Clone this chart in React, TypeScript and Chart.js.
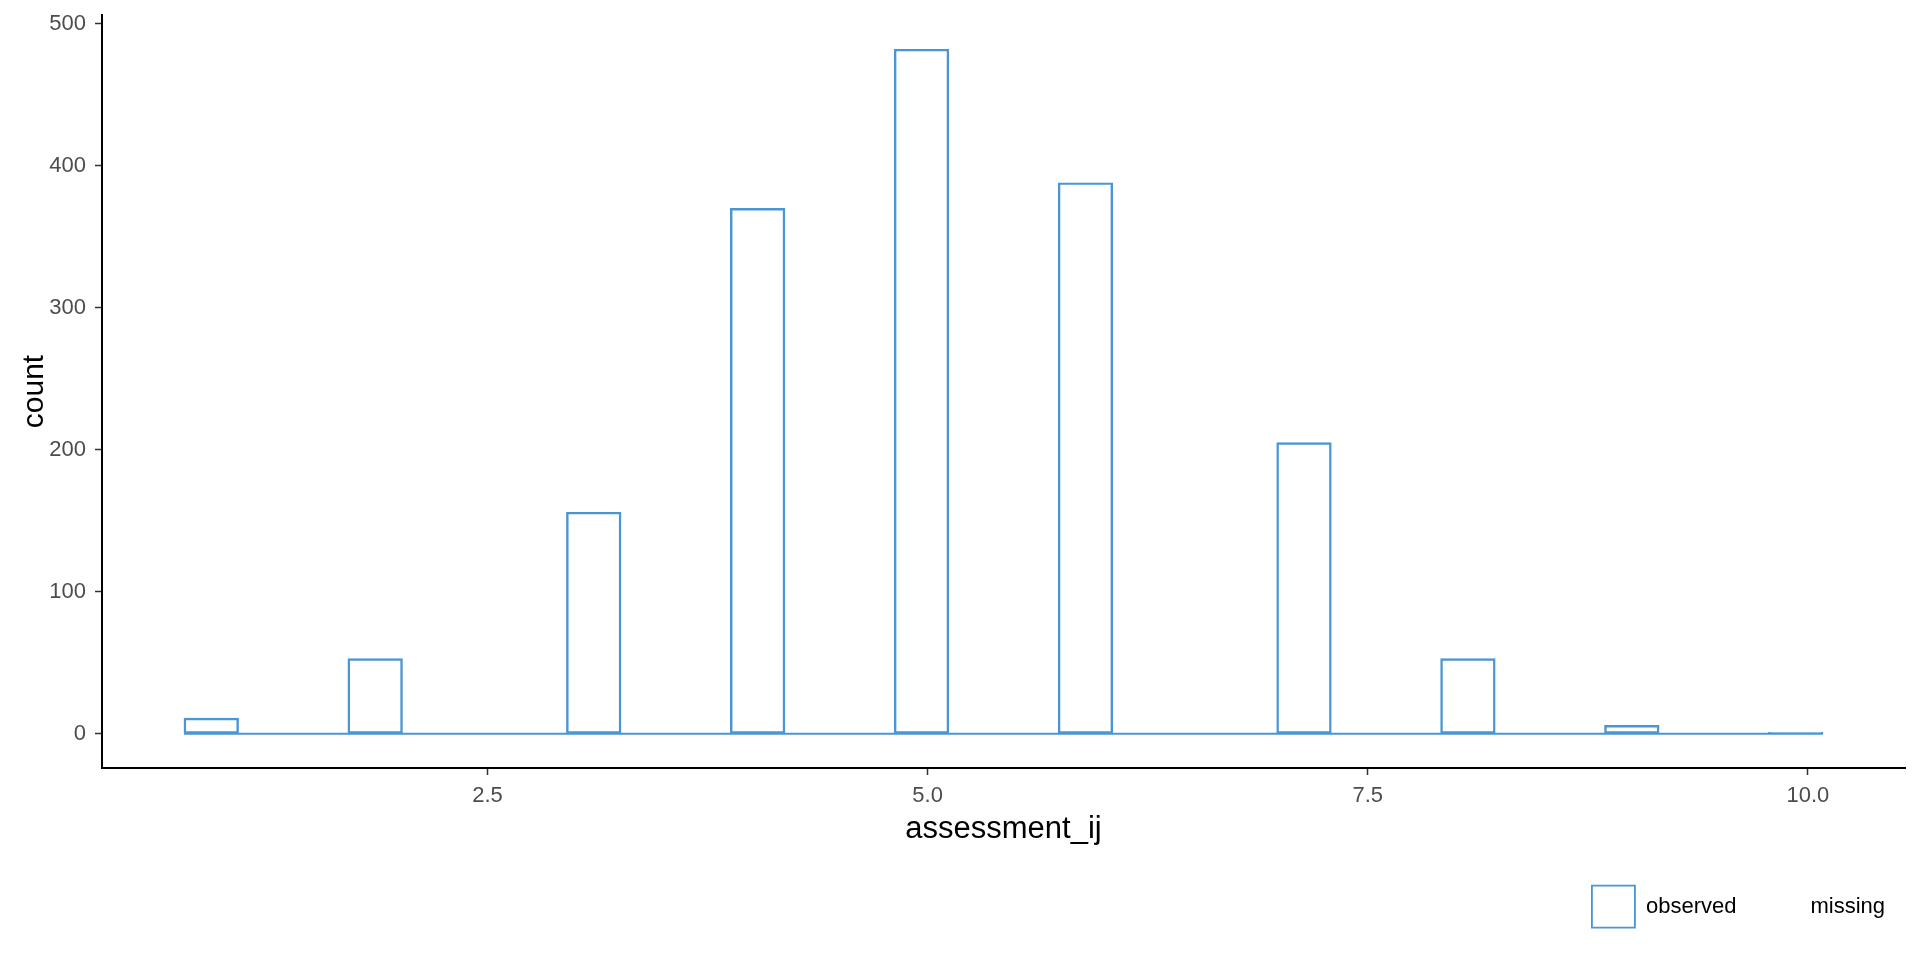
import React, { useEffect, useRef } from 'react';
import { Chart, registerables } from 'chart.js';

Chart.register(...registerables);

// Histogram bins (30 bins, ggplot default)
const binStart = 0.7759;
const binWidth = 9 / 29;
const binCounts = [11, 0, 0, 53, 0, 0, 0, 156, 0, 0, 370, 0, 0, 482, 0, 0, 388, 0, 0, 0, 205, 0, 0, 53, 0, 0, 6, 0, 0, 1];
const xTicks = [2.5, 5.0, 7.5, 10.0];
const yTicks = [0, 100, 200, 300, 400, 500];
const legendLabels = ['observed', 'missing'];
const xTitle = 'assessment_ij';
const yTitle = 'count';

const BLUE = '#4A96D3';
const FONT = "'Liberation Sans', Arial, sans-serif";

export default function App() {
  const ref = useRef<HTMLCanvasElement>(null);

  useEffect(() => {
    document.body.style.margin = '0';
    Chart.defaults.font.family = FONT;
    const binCenters = binCounts.map((_, i) => binStart + (i + 0.5) * binWidth);
    const binEnd = binStart + binCounts.length * binWidth;
    const yMax = Math.max(...binCounts);
    const xExp = (binEnd - binStart) * 0.05;
    const yExp = yMax * 0.05;

    const chart = new Chart(ref.current as HTMLCanvasElement, {
      type: 'bar',
      data: {
        datasets: [
          {
            type: 'bar',
            label: legendLabels[0],
            data: binCenters.map((x, i) => ({ x, y: binCounts[i] })),
            backgroundColor: 'rgba(0,0,0,0)',
            borderColor: BLUE,
            borderWidth: 1.8,
            borderSkipped: false,
            barPercentage: 1,
            categoryPercentage: 1,
            order: 1,
          } as any,
          {
            type: 'line',
            label: 'baseline',
            data: [
              { x: binStart, y: 0 },
              { x: binEnd, y: 0 },
            ],
            borderColor: BLUE,
            borderWidth: 1.8,
            pointRadius: 0,
            order: 2,
          } as any,
        ],
      },
      options: {
        animation: false,
        responsive: true,
        maintainAspectRatio: false,
        devicePixelRatio: 1,
        layout: { padding: { top: 15, right: 15, bottom: 22.3, left: 0 } },
        plugins: {
          tooltip: { enabled: false },
          legend: {
            display: true,
            position: 'bottom',
            align: 'end',
            labels: {
              boxWidth: 43,
              boxHeight: 42,
              padding: 20,
              color: '#000000',
              font: { size: 22, family: FONT },
              generateLabels: () => [
                {
                  text: legendLabels[0],
                  fillStyle: '#ffffff',
                  strokeStyle: BLUE,
                  lineWidth: 1.8,
                  hidden: false,
                  fontColor: '#000000',
                  datasetIndex: 0,
                },
                {
                  text: legendLabels[1],
                  fillStyle: 'rgba(0,0,0,0)',
                  strokeStyle: 'rgba(0,0,0,0)',
                  lineWidth: 0,
                  hidden: false,
                  fontColor: '#000000',
                },
              ],
            },
          },
        },
        scales: {
          x: {
            type: 'linear',
            offset: false,
            min: binStart - xExp,
            max: binEnd + xExp,
            afterBuildTicks: (s: any) => {
              s.ticks = xTicks.map((v) => ({ value: v }));
            },
            afterFit: (s: any) => {
              s.height = 97.7;
              s.paddingLeft = 0;
              s.paddingRight = 0;
            },
            ticks: {
              callback: (v: any) => Number(v).toFixed(1),
              font: { size: 22, family: FONT },
              color: '#4D4D4D',
              padding: 8,
              maxRotation: 0,
              autoSkip: false,
            },
            grid: {
              display: true,
              offset: false,
              drawOnChartArea: false,
              drawTicks: true,
              tickLength: 7,
              tickWidth: 1.5,
              color: '#333333',
            },
            border: { display: true, color: '#000000', width: 2 },
            title: {
              display: true,
              text: xTitle,
              color: '#000000',
              font: { size: 31, family: FONT },
              padding: { top: 0, bottom: 17.8 },
            },
          },
          y: {
            type: 'linear',
            min: -yExp,
            max: yMax + yExp,
            afterBuildTicks: (s: any) => {
              s.ticks = yTicks.map((v) => ({ value: v }));
            },
            afterFit: (s: any) => {
              s.width = 102;
              s.paddingTop = 0;
              s.paddingBottom = 0;
            },
            ticks: {
              font: { size: 22, family: FONT },
              color: '#4D4D4D',
              padding: 9,
              autoSkip: false,
            },
            grid: {
              display: true,
              drawOnChartArea: false,
              drawTicks: true,
              tickLength: 7,
              tickWidth: 1.5,
              color: '#333333',
            },
            border: { display: true, color: '#000000', width: 2 },
            title: {
              display: true,
              text: yTitle,
              color: '#000000',
              font: { size: 30, family: FONT },
              padding: { top: 16.5, bottom: 0 },
            },
          },
        },
      },
    });
    return () => chart.destroy();
  }, []);

  return (
    <div style={{ position: 'fixed', left: 0, top: 0, width: 1920, height: 960 }}>
      <canvas ref={ref} />
    </div>
  );
}
